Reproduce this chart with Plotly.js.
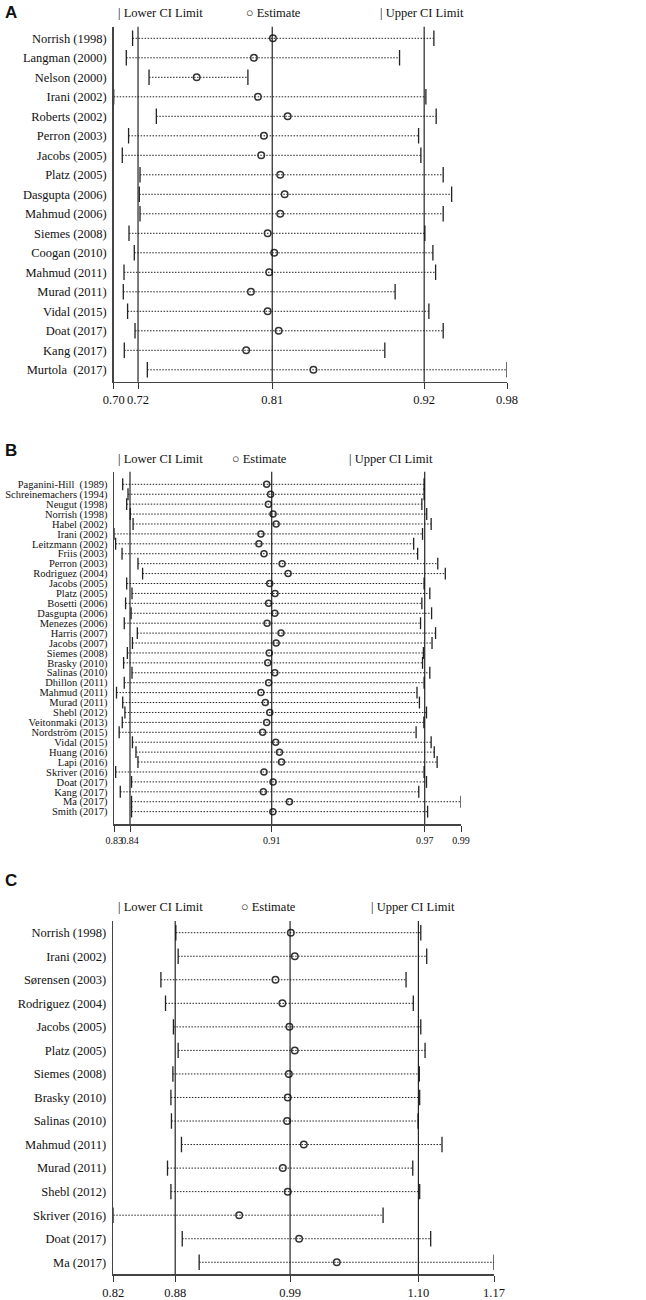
<!DOCTYPE html>
<html><head><meta charset="utf-8">
<script src="https://cdn.plot.ly/plotly-3.0.1.min.js"></script>
<style>html,body{margin:0;padding:0;background:#fff}</style>
</head><body><div id="chart" style="width:646px;height:1300px"></div>
<script>
// ---------- Panel A ----------
const aStudies = ["Norrish (1998)", "Langman (2000)", "Nelson (2000)", "Irani (2002)", "Roberts (2002)", "Perron (2003)", "Jacobs (2005)", "Platz (2005)", "Dasgupta (2006)", "Mahmud (2006)", "Siemes (2008)", "Coogan (2010)", "Mahmud (2011)", "Murad (2011)", "Vidal (2015)", "Doat (2017)", "Kang (2017)", "Murtola\u00a0 (2017)"];
const aLower = [0.7162, 0.7118, 0.7277, 0.7030, 0.7328, 0.7134, 0.7090, 0.7214, 0.7209, 0.7214, 0.7137, 0.7174, 0.7102, 0.7097, 0.7127, 0.7179, 0.7104, 0.7265];
const aEst   = [0.8143, 0.8010, 0.7610, 0.8038, 0.8246, 0.8080, 0.8061, 0.8194, 0.8225, 0.8194, 0.8106, 0.8152, 0.8117, 0.7989, 0.8106, 0.8183, 0.7956, 0.8426];
const aUpper = [0.9268, 0.9028, 0.7968, 0.9212, 0.9284, 0.9161, 0.9177, 0.9333, 0.9392, 0.9333, 0.9205, 0.9261, 0.9280, 0.8997, 0.9233, 0.9333, 0.8925, 0.9779];
const aPooled = [0.7200, 0.8138, 0.9200]; // lower, estimate, upper

// ---------- Panel B ----------
const bStudies = ["Paganini-Hill\u00a0 (1989)", "Schreinemachers (1994)", "Neugut (1998)", "Norrish (1998)", "Habel (2002)", "Irani (2002)", "Leitzmann (2002)", "Friis (2003)", "Perron (2003)", "Rodriguez (2004)", "Jacobs (2005)", "Platz (2005)", "Bosetti (2006)", "Dasgupta (2006)", "Menezes (2006)", "Harris (2007)", "Jacobs (2007)", "Siemes (2008)", "Brasky (2010)", "Salinas (2010)", "Dhillon (2011)", "Mahmud (2011)", "Murad (2011)", "Shebl (2012)", "Veitonmaki (2013)", "Nordström (2015)", "Vidal (2015)", "Huang (2016)", "Lapi (2016)", "Skriver (2016)", "Doat (2017)", "Kang (2017)", "Ma (2017)", "Smith (2017)"];
const bLower = [0.8380, 0.8404, 0.8398, 0.8414, 0.8427, 0.8342, 0.8348, 0.8377, 0.8449, 0.8470, 0.8398, 0.8422, 0.8393, 0.8418, 0.8387, 0.8446, 0.8424, 0.8401, 0.8384, 0.8422, 0.8387, 0.8352, 0.8380, 0.8390, 0.8378, 0.8364, 0.8424, 0.8440, 0.8449, 0.8348, 0.8420, 0.8369, 0.8420, 0.8420];
const bEst   = [0.9031, 0.9049, 0.9039, 0.9060, 0.9074, 0.9005, 0.8996, 0.9019, 0.9101, 0.9128, 0.9045, 0.9069, 0.9040, 0.9068, 0.9033, 0.9096, 0.9074, 0.9043, 0.9036, 0.9068, 0.9040, 0.9005, 0.9025, 0.9045, 0.9031, 0.9013, 0.9072, 0.9089, 0.9098, 0.9019, 0.9060, 0.9016, 0.9134, 0.9059];
const bUpper = [0.9743, 0.9743, 0.9733, 0.9755, 0.9775, 0.9736, 0.9696, 0.9714, 0.9805, 0.9839, 0.9743, 0.9769, 0.9733, 0.9777, 0.9727, 0.9795, 0.9779, 0.9740, 0.9736, 0.9769, 0.9743, 0.9711, 0.9722, 0.9754, 0.9742, 0.9707, 0.9775, 0.9789, 0.9802, 0.9743, 0.9754, 0.9719, 0.9910, 0.9759];
const bPooled = [0.8413, 0.9054, 0.9746];

// ---------- Panel C ----------
const cStudies = ["Norrish (1998)", "Irani (2002)", "Sørensen (2003)", "Rodriguez (2004)", "Jacobs (2005)", "Platz (2005)", "Siemes (2008)", "Brasky (2010)", "Salinas (2010)", "Mahmud (2011)", "Murad (2011)", "Shebl (2012)", "Skriver (2016)", "Doat (2017)", "Ma (2017)"];
const cLower = [0.8814, 0.8835, 0.8678, 0.8720, 0.8792, 0.8835, 0.8787, 0.8769, 0.8774, 0.8865, 0.8738, 0.8769, 0.8245, 0.8872, 0.9026];
const cEst   = [0.9860, 0.9896, 0.9720, 0.9783, 0.9847, 0.9896, 0.9842, 0.9832, 0.9826, 0.9978, 0.9787, 0.9832, 0.9390, 0.9935, 1.0278];
const cUpper = [1.1042, 1.1096, 1.0908, 1.0974, 1.1042, 1.1081, 1.1029, 1.1032, 1.1017, 1.1235, 1.0969, 1.1032, 1.0699, 1.1132, 1.1708];
const cPooled = [0.8808, 0.9853, 1.1020];

const headerTexts = ["| Lower CI Limit", "\u25CB Estimate", "| Upper CI Limit"];
const panelLetters = ["A", "B", "C"];

// ---------- layout geometry (pixels) ----------
const W = 646, H = 1300;
const geo = [
  {xl:113.7, xr:507, yt:26.7, yb:381.7, row0:38.3, step:19.5, lab:12.5, tick:12.5, cap:11, mk:6.5, hy:13.3, hx:[115.7,244,378], ly:12.5},
  {xl:114.3, xr:461, yt:471.7, yb:824, row0:484.3, step:9.92, lab:10.5, tick:10, cap:8.5, mk:6, hy:459, hx:[115.7,230,346.7], ly:450},
  {xl:113.3, xr:494, yt:921, yb:1274.3, row0:932.7, step:23.54, lab:12.5, tick:12.5, cap:11, mk:6.5, hy:906.7, hx:[115.7,239,369], ly:880}
];
const data = [
  {studies:aStudies, lower:aLower, est:aEst, upper:aUpper, pooled:aPooled},
  {studies:bStudies, lower:bLower, est:bEst, upper:bUpper, pooled:bPooled},
  {studies:cStudies, lower:cLower, est:cEst, upper:cUpper, pooled:cPooled}
];

const serif = "Liberation Serif, Times New Roman, serif";
const traces = [], shapes = [], annotations = [];
const layout = {
  width: W, height: H, margin: {l:0, r:0, t:0, b:0},
  paper_bgcolor: "#fff", plot_bgcolor: "#fff", showlegend: false,
  font: {family: serif, color: "#111"}
};

data.forEach((d, k) => {
  const g = geo[k];
  const n = k + 1;
  const xa = n === 1 ? "x" : "x" + n;
  const ya = n === 1 ? "y" : "y" + n;
  const idx = d.studies.map((_, i) => i);
  const xmin = Math.min(...d.lower), xmax = Math.max(...d.upper);

  // dotted CI lines
  const lx = [], ly = [];
  idx.forEach(i => { lx.push(d.lower[i], d.upper[i], null); ly.push(i, i, null); });
  traces.push({x: lx, y: ly, xaxis: xa, yaxis: ya, mode: "lines", hoverinfo: "skip",
    line: {color: "#222", width: 1, dash: "1.5px,1.5px"}});
  // caps
  [d.lower, d.upper].forEach(arr => traces.push({x: arr, y: idx, xaxis: xa, yaxis: ya, mode: "markers",
    marker: {symbol: "line-ns-open", size: g.cap, color: "#222", line: {width: 1.3, color: "#222"}}}));
  // estimates
  traces.push({x: d.est, y: idx, xaxis: xa, yaxis: ya, mode: "markers",
    marker: {symbol: "circle-open", size: g.mk, color: "#333", line: {width: 1.5, color: "#333"}}});

  // pooled vertical lines
  d.pooled.forEach(v => shapes.push({type: "line", xref: xa, yref: ya + " domain", x0: v, x1: v, y0: 0, y1: 1,
    line: {color: "#111", width: 1.1}}));

  const tv = [xmin, ...d.pooled, xmax];
  layout["xaxis" + (n === 1 ? "" : n)] = {
    domain: [g.xl / W, g.xr / W], range: [xmin, xmax], anchor: ya,
    tickmode: "array", tickvals: tv, ticktext: tv.map(v => v.toFixed(2)), tickangle: 0,
    ticks: "outside", ticklen: 6, tickwidth: 1, tickcolor: "#333",
    showline: true, linecolor: "#444", linewidth: 1.6, showgrid: false, zeroline: false,
    tickfont: {family: serif, size: g.tick, color: "#111"}, fixedrange: true
  };
  layout["yaxis" + (n === 1 ? "" : n)] = {
    domain: [1 - g.yb / H, 1 - g.yt / H],
    range: [(g.yb - g.row0) / g.step, (g.yt - g.row0) / g.step], anchor: xa,
    tickmode: "array", tickvals: idx, ticktext: d.studies, ticks: "", ticklabelstandoff: 3,
    showline: true, linecolor: "#444", linewidth: 1.6, showgrid: false, zeroline: false,
    tickfont: {family: serif, size: g.lab, color: "#111"}, fixedrange: true
  };

  headerTexts.forEach((t, j) => annotations.push({text: t, xref: "paper", yref: "paper",
    x: g.hx[j] / W, y: 1 - g.hy / H, xanchor: "left", yanchor: "middle", showarrow: false,
    font: {family: serif, size: 12.5, color: "#111"}}));
  annotations.push({text: panelLetters[k], xref: "paper", yref: "paper", x: 3 / W, y: 1 - g.ly / H,
    xanchor: "left", yanchor: "middle", showarrow: false,
    font: {family: "Liberation Sans, Arial, sans-serif", size: 17, weight: 700, color: "#111"}});
});

layout.shapes = shapes;
layout.annotations = annotations;
Plotly.newPlot("chart", traces, layout, {displayModeBar: false, staticPlot: true});
</script></body></html>
